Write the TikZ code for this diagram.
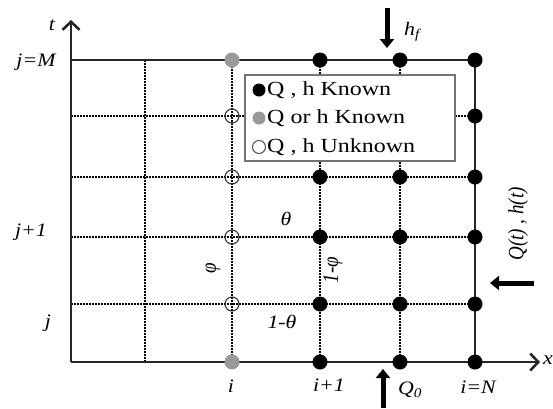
\documentclass[tikz,border=0pt]{standalone}
\usepackage{fontspec}
\setmainfont{Liberation Serif}
\usetikzlibrary{arrows.meta}
\begin{document}
\begin{tikzpicture}[x=1pt,y=-1pt,
  axisline/.style={line width=2.6pt, draw=black!85},
  frameline/.style={line width=2.2pt, draw=black!85},
  gridline/.style={line width=1.7pt, dash pattern=on 1.7pt off 1.3pt},
  known/.style={circle, fill=black, inner sep=0pt, minimum size=15pt},
  partial/.style={circle, fill=black!40, inner sep=0pt, minimum size=15pt},
  unknown/.style={circle, draw=black!80, line width=1.1pt, inner sep=0pt, minimum size=14pt},
  lab/.style={font=\fontsize{19}{19}\selectfont\itshape, inner sep=0pt, xscale=1.15},
  legtext/.style={font=\fontsize{20}{20}\selectfont, anchor=west, inner sep=0pt, xscale=1.2},
  legdot/.style={circle, inner sep=0pt, minimum size=13pt},
  bigarrow/.style={line width=5pt, -{Triangle[length=9pt,width=14pt]}},
]
\useasboundingbox (0,0) rectangle (553,408);
% grid coordinates
\foreach \a/\xx in {0/71,1/145,2/232,3/320,4/400,5/475}{
  \foreach \b/\yy in {0/362,1/304,2/237,3/177,4/116,5/60}{
    \coordinate (p\a\b) at (\xx,\yy);
  }
}
\coordinate (ttip) at (71,20);
\coordinate (xtip) at (540,362);
% dotted grid
\foreach \a in {1,2,3,4}{ \draw[gridline] (p\a0) -- (p\a5); }
\foreach \b in {1,2,3,4}{ \draw[gridline] (p0\b) -- (p5\b); }
% solid frame and axes
\draw[frameline] (p05) -- (p55) -- (p50);
\draw[axisline, -{Straight Barb[length=8pt,width=17pt]}] (p00) -- (ttip);
\draw[axisline, -{Straight Barb[length=8pt,width=17pt]}] (p00) -- (xtip);
% points
\foreach \a in {3,4}{ \foreach \b in {0,...,5}{ \node[known] (k\a\b) at (p\a\b) {}; } }
\foreach \b in {0,...,5}{ \node[known] (k5\b) at (p5\b) {}; }
\node[partial] (g0) at (p20) {};
\node[partial] (g5) at (p25) {};
\foreach \b in {1,2,3,4}{ \node[unknown] (u\b) at (p2\b) {}; }
% legend
\node[draw=black!55, line width=1.3pt, fill=white, minimum width=210pt, minimum height=86pt, inner sep=0pt] (legend) at (350,118) {};
\node[legdot, fill=black] (ld1) at (259,90) {};
\node[legdot, fill=black!40] (ld2) at (259,118) {};
\node[legdot, draw=black!70, line width=1pt] (ld3) at (259,147) {};
\node[legtext] (lt1) at (267,90) {Q , h Known};
\node[legtext] (lt2) at (267,118) {Q or h Known};
\node[legtext] (lt3) at (267,147) {Q , h Unknown};
% labels
\node[lab] (tl) at (52,25) {t};
\node[lab] (jM) at (36,62) {j=M};
\node[lab] (j1) at (31,232) {j+1};
\node[lab] (j0) at (48,323) {j};
\node[lab] (i0) at (231,386) {i};
\node[lab] (i1) at (329,385) {i+1};
\node[lab] (iN) at (478,387) {i=N};
\node[lab, anchor=west] (xl) at (543,360) {x};
\node[lab] (th) at (286,219) {θ};
\node[lab] (th1) at (282,322) {1-θ};
\node[lab, rotate=90] (ph) at (213,268) {φ};
\node[lab, rotate=90] (ph1) at (333,270) {1-φ};
\node[lab, rotate=90] (Qh) at (518,224) {Q(t) , h(t)};
\node[lab] (hf) at (412,32) {h\textsubscript{f}};
\node[lab] (Q0) at (410,390) {Q\textsubscript{0}};
% boundary arrows
\coordinate (hfa) at (387,8);
\coordinate (hfb) at (387,48);
\coordinate (q0a) at (383,408);
\coordinate (q0b) at (383,369);
\coordinate (qta) at (534,283);
\coordinate (qtb) at (490,283);
\draw[bigarrow] (hfa) -- (hfb);
\draw[bigarrow] (q0a) -- (q0b);
\draw[bigarrow] (qta) -- (qtb);
\end{tikzpicture}
\end{document}
